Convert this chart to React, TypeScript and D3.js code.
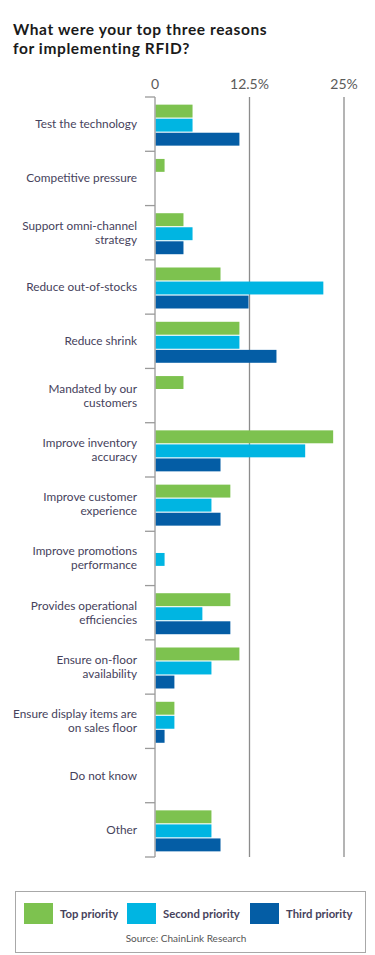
import React from "react";
import * as d3 from "d3";

const categories = [
  "Test the technology",
  "Competitive pressure",
  "Support omni-channel\nstrategy",
  "Reduce out-of-stocks",
  "Reduce shrink",
  "Mandated by our\ncustomers",
  "Improve inventory\naccuracy",
  "Improve customer\nexperience",
  "Improve promotions\nperformance",
  "Provides operational\nefficiencies",
  "Ensure on-floor\navailability",
  "Ensure display items are\non sales floor",
  "Do not know",
  "Other",
];

const seriesNames = ["Top priority", "Second priority", "Third priority"];

const topPriority = [4.9, 1.2, 3.7, 8.6, 11.1, 3.7, 23.5, 9.9, 0, 9.9, 11.1, 2.5, 0, 7.4];
const secondPriority = [4.9, 0, 4.9, 22.2, 11.1, 0, 19.8, 7.4, 1.2, 6.2, 7.4, 2.5, 0, 7.4];
const thirdPriority = [11.1, 0, 3.7, 12.3, 16.0, 0, 8.6, 8.6, 0, 9.9, 2.5, 1.2, 0, 8.6];

const tickValues = [0, 12.5, 25];
const tickLabels = ["0", "12.5%", "25%"];

const colors = ["#7dc24f", "#00b5e2", "#045da5"];

export default function App() {
  const W = 375;
  const H = 955;
  const x = d3.scaleLinear().domain([0, 25]).range([155, 344]);
  const y = d3.scaleBand<string>().domain(categories).range([97, 857]);
  const inner = d3
    .scaleBand<string>()
    .domain(seriesNames)
    .range([0, 41])
    .paddingInner(0.08);
  const series = [topPriority, secondPriority, thirdPriority];
  const offset = (y.bandwidth() - 41) / 2 + 1;
  const labelColor = "#46425c";
  const font = "Lato, 'Open Sans', sans-serif";

  return (
    <svg
      width={W}
      height={H}
      style={{ position: "absolute", left: 0, top: 0, background: "#fff" }}
      fontFamily={font}
    >
      <text x={13} y={35} fontSize={15.5} fontWeight={700} fill="#1a1a1a" letterSpacing={0.6}>
        What were your top three reasons
      </text>
      <text x={13} y={54} fontSize={15.5} fontWeight={700} fill="#1a1a1a" letterSpacing={0.6}>
        for implementing RFID?
      </text>

      {/* tick labels */}
      {tickValues.map((t, i) => (
        <text
          key={"tl" + i}
          x={x(t)}
          y={89}
          textAnchor="middle"
          fontSize={14}
          fill="#5a5a5a"
        >
          {tickLabels[i]}
        </text>
      ))}

      {/* gridlines */}
      {tickValues.slice(1).map((t, i) => (
        <line
          key={"g" + i}
          x1={x(t)}
          x2={x(t)}
          y1={97}
          y2={857}
          stroke="#8c8c8c"
          strokeWidth={1.3}
        />
      ))}

      {/* bars */}
      {categories.map((c, ci) =>
        series.map((vals, si) =>
          vals[ci] > 0 ? (
            <rect
              key={"b" + ci + "-" + si}
              x={x(0) + 0.5}
              y={(y(c) as number) + offset + (inner(seriesNames[si]) as number)}
              width={x(vals[ci]) - x(0)}
              height={inner.bandwidth()}
              fill={colors[si]}
            />
          ) : null
        )
      )}

      {/* axis line and ticks */}
      <line x1={x(0)} x2={x(0)} y1={97} y2={857} stroke="#9a9a9a" strokeWidth={1.3} />
      {[...categories.map((c) => y(c) as number), 857].map((yy, i) => (
        <line
          key={"t" + i}
          x1={145}
          x2={x(0)}
          y1={yy}
          y2={yy}
          stroke="#9a9a9a"
          strokeWidth={1.3}
        />
      ))}

      {/* category labels */}
      {categories.map((c) => {
        const lines = c.split("\n");
        const cy = (y(c) as number) + y.bandwidth() / 2;
        const lh = 14;
        const start = cy - ((lines.length - 1) * lh) / 2 + 4;
        return (
          <text
            key={"l" + c}
            x={137}
            textAnchor="end"
            fontSize={11.8}
            fill={labelColor}
          >
            {lines.map((ln, li) => (
              <tspan key={li} x={137} y={start + li * lh}>
                {ln}
              </tspan>
            ))}
          </text>
        );
      })}

      {/* legend */}
      <rect x={15.5} y={891.5} width={350} height={61} fill="#fff" stroke="#a8a8a8" strokeWidth={1} />
      {seriesNames.map((s, i) => {
        const sx = [24, 127, 250][i];
        return (
          <g key={"lg" + i}>
            <rect x={sx} y={903} width={29} height={21} fill={colors[i]} />
            <text
              x={sx + 36}
              y={918}
              fontSize={11.3}
              fontWeight={700}
              fill={labelColor}
            >
              {s}
            </text>
          </g>
        );
      })}
      <text x={186} y={942} textAnchor="middle" fontSize={10} fill="#555">
        Source: ChainLink Research
      </text>
    </svg>
  );
}
